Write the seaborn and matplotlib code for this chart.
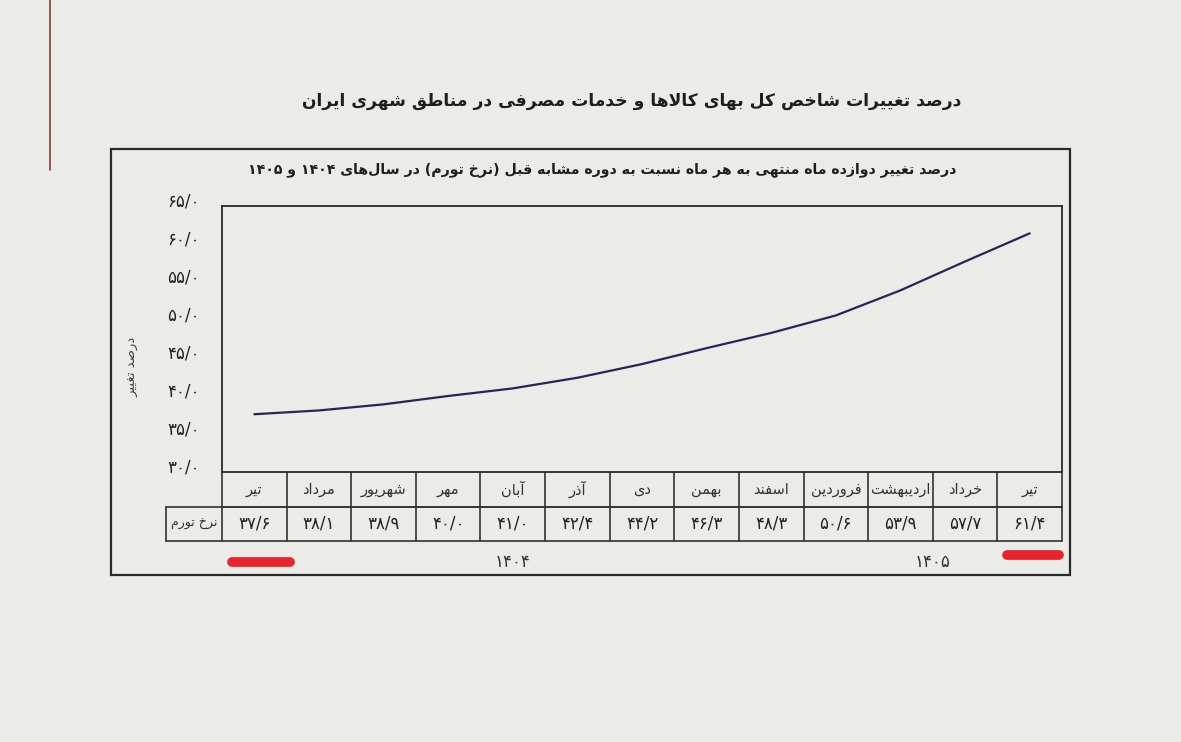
import matplotlib
matplotlib.use("Agg")
import matplotlib.pyplot as plt
import matplotlib.transforms as mtransforms
from matplotlib.lines import Line2D
from matplotlib.patches import Rectangle
import pandas as pd
import seaborn as sns

# --- data ---
title = "درصد تغییرات شاخص کل بهای کالاها و خدمات مصرفی در مناطق شهری ایران"
subtitle = "درصد تغییر دوازده ماه منتهی به هر ماه نسبت به دوره مشابه قبل (نرخ تورم) در سال\u200cهای ۱۴۰۴ و ۱۴۰۵"
y_label = "درصد تغییر"
row_label = "نرخ تورم"
months = ["تیر", "مرداد", "شهریور", "مهر", "آبان", "آذر", "دی",
          "بهمن", "اسفند", "فروردین", "اردیبهشت", "خرداد", "تیر"]
inflation = [37.6, 38.1, 38.9, 40.0, 41.0, 42.4, 44.2, 46.3, 48.3, 50.6, 53.9, 57.7, 61.4]
y_ticks = [30, 35, 40, 45, 50, 55, 60, 65]
years = ["۱۴۰۴", "۱۴۰۵"]

# --- minimal Persian shaping + visual reordering (matplotlib has no RTL support) ---
FORMS = {
    'ا': '\uFE8D\uFE8E', 'آ': '\uFE81\uFE82',
    'ب': '\uFE8F\uFE90\uFE91\uFE92', 'پ': '\uFB56\uFB57\uFB58\uFB59',
    'ت': '\uFE95\uFE96\uFE97\uFE98', 'ث': '\uFE99\uFE9A\uFE9B\uFE9C',
    'ج': '\uFE9D\uFE9E\uFE9F\uFEA0', 'چ': '\uFB7A\uFB7B\uFB7C\uFB7D',
    'ح': '\uFEA1\uFEA2\uFEA3\uFEA4', 'خ': '\uFEA5\uFEA6\uFEA7\uFEA8',
    'د': '\uFEA9\uFEAA', 'ذ': '\uFEAB\uFEAC', 'ر': '\uFEAD\uFEAE',
    'ز': '\uFEAF\uFEB0', 'ژ': '\uFB8A\uFB8B',
    'س': '\uFEB1\uFEB2\uFEB3\uFEB4', 'ش': '\uFEB5\uFEB6\uFEB7\uFEB8',
    'ص': '\uFEB9\uFEBA\uFEBB\uFEBC', 'ض': '\uFEBD\uFEBE\uFEBF\uFEC0',
    'ط': '\uFEC1\uFEC2\uFEC3\uFEC4', 'ظ': '\uFEC5\uFEC6\uFEC7\uFEC8',
    'ع': '\uFEC9\uFECA\uFECB\uFECC', 'غ': '\uFECD\uFECE\uFECF\uFED0',
    'ف': '\uFED1\uFED2\uFED3\uFED4', 'ق': '\uFED5\uFED6\uFED7\uFED8',
    'ک': '\uFB8E\uFB8F\uFB90\uFB91', 'گ': '\uFB92\uFB93\uFB94\uFB95',
    'ل': '\uFEDD\uFEDE\uFEDF\uFEE0', 'م': '\uFEE1\uFEE2\uFEE3\uFEE4',
    'ن': '\uFEE5\uFEE6\uFEE7\uFEE8', 'ه': '\uFEE9\uFEEA\uFEEB\uFEEC',
    'و': '\uFEED\uFEEE', 'ی': '\uFBFC\uFBFD\uFBFE\uFBFF',
}
LAM_ALEF = {'ا': '\uFEFB\uFEFC', 'آ': '\uFEF5\uFEF6'}
DIGITS = set("۰۱۲۳۴۵۶۷۸۹0123456789")
MIRROR = {'(': ')', ')': '('}


def shape(s):
    out = []
    i = 0
    while i < len(s):
        c = s[i]
        if c not in FORMS:
            if c != '\u200c':
                out.append(c)
            i += 1
            continue
        prev = s[i - 1] if i > 0 else ''
        joins_prev = prev in FORMS and len(FORMS[prev]) == 4
        if c == 'ل' and i + 1 < len(s) and s[i + 1] in LAM_ALEF:
            out.append(LAM_ALEF[s[i + 1]][1 if joins_prev else 0])
            i += 2
            continue
        nxt = s[i + 1] if i + 1 < len(s) else ''
        joins_next = len(FORMS[c]) == 4 and nxt in FORMS
        f = FORMS[c]
        if joins_prev and joins_next:
            out.append(f[3])
        elif joins_next:
            out.append(f[2])
        elif joins_prev:
            out.append(f[1])
        else:
            out.append(f[0])
        i += 1
    return out


def fa(s):
    chars = shape(s)
    runs = []
    for c in chars:
        kind = c in DIGITS
        if runs and runs[-1][0] == kind:
            runs[-1][1].append(c)
        else:
            runs.append([kind, [c]])
    vis = []
    for kind, cs in reversed(runs):
        if kind:
            vis.extend(cs)
        else:
            vis.extend(MIRROR.get(c, c) for c in reversed(cs))
    return "".join(vis)


def fa_num(v):
    return f"{v:.1f}".replace(".", "/").translate(str.maketrans("0123456789", "۰۱۲۳۴۵۶۷۸۹"))


# --- figure ---
bg = "#ebebe8"
sns.set_theme(style="white")
plt.rcParams["font.family"] = ["DejaVu Sans"]

W, H = 1181, 742
fig = plt.figure(figsize=(W / 100, H / 100), dpi=100, facecolor=bg)


def fx(px):
    return px / W


def fy(py):
    return 1 - py / H


ax_l, ax_r, ax_t, ax_b = 222, 1062, 206, 472
ax = fig.add_axes([fx(ax_l), fy(ax_b), fx(ax_r - ax_l), (ax_b - ax_t) / H])
ax.set_facecolor(bg)

df = pd.DataFrame({"pos": range(len(months)), "rate": inflation})
sns.lineplot(data=df, x="pos", y="rate", ax=ax, color="#2b2358", linewidth=1.6)

ax.set_xlim(-0.5, len(months) - 0.5)
ax.set_ylim(30, 65)
ax.set_xticks([])
ax.set_yticks(y_ticks)
ax.set_yticklabels([fa_num(t) for t in y_ticks], fontsize=12, color="#222222")
ax.tick_params(axis="y", length=0, pad=16)
for lab in ax.get_yticklabels():
    lab.set_transform(lab.get_transform() + mtransforms.ScaledTranslation(0, 5 / 72, fig.dpi_scale_trans))
ax.set_xlabel("")
ax.set_ylabel("")
for sp in ax.spines.values():
    sp.set_visible(True)
    sp.set_color("#2a2a2a")
    sp.set_linewidth(1.3)

# data table under the plot
trans = mtransforms.blended_transform_factory(ax.transData, ax.transAxes)
h_ax = ax_b - ax_t
r1 = -35 / h_ax
r2 = -69 / h_ax
hdr_x = -0.5 - (ax_l - 166) / ((ax_r - ax_l) / len(months))
grid_kw = dict(transform=trans, color="#333333", linewidth=1.2, clip_on=False)
ax.add_line(Line2D([-0.5, len(months) - 0.5], [r1, r1], **grid_kw))
ax.add_line(Line2D([hdr_x, len(months) - 0.5], [r1, r1], **grid_kw))
ax.add_line(Line2D([hdr_x, len(months) - 0.5], [r2, r2], **grid_kw))
ax.add_line(Line2D([hdr_x, hdr_x], [r1, r2], **grid_kw))
for k in range(len(months) + 1):
    ax.add_line(Line2D([k - 0.5, k - 0.5], [0, r2], **grid_kw))

for i, (m, v) in enumerate(zip(months, inflation)):
    ax.text(i, r1 / 2, fa(m), transform=trans, ha="center", va="center",
            fontsize=10.5, color="#333333")
    ax.text(i, (r1 + r2) / 2, fa_num(v), transform=trans, ha="center", va="center",
            fontsize=12, color="#222222")
ax.text((hdr_x - 0.5) / 2, (r1 + r2) / 2, fa(row_label), transform=trans,
        ha="center", va="center", fontsize=9, color="#333333")

# year captions
year_y = -(562 - ax_b) / h_ax
for yr, xpos in zip(years, [4.0, 10.5]):
    ax.text(xpos, year_y, yr, transform=trans, ha="center", va="center",
            fontsize=12, color="#333333")

# red hand-drawn underlines
red_kw = dict(transform=trans, color="#e8232b", linewidth=7, solid_capstyle="round", clip_on=False)
ax.add_line(Line2D([-0.35, 0.55], [year_y, year_y], **red_kw))
ax.add_line(Line2D([11.65, 12.45], [-(555 - ax_b) / h_ax] * 2, **red_kw))

# outer frame, texts
fig.add_artist(Rectangle((fx(111), fy(575)), fx(1070 - 111), (575 - 149) / H,
                         fill=False, edgecolor="#2a2a2a", linewidth=1.6))
fig.text(fx(602), fy(170), fa(subtitle), ha="center", va="center",
         fontsize=10.2, fontweight="bold", color="#1e1e1e")
fig.text(fx(632), fy(101), fa(title), ha="center", va="center",
         fontsize=12.3, fontweight="bold", color="#1e1e1e")
fig.text(fx(133), fy(367), fa(y_label), ha="center", va="center", rotation=90,
         fontsize=9.5, color="#444444")

# page margin rule
fig.add_artist(Line2D([fx(50), fx(50)], [fy(0), fy(170)], color="#8a3a3e", linewidth=1.2))

fig.savefig("out.png", dpi=100, facecolor=bg)
